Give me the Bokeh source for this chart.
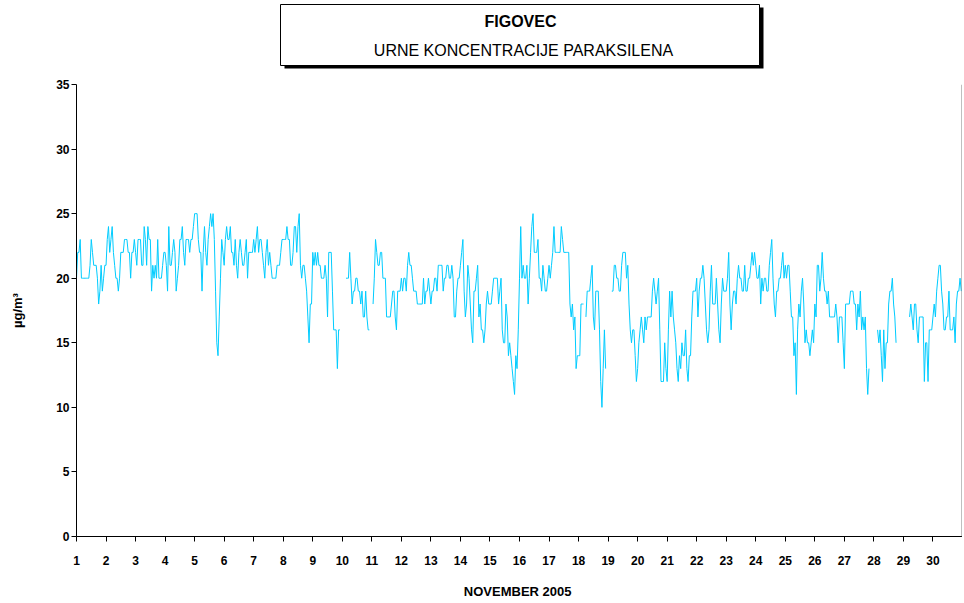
import numpy as np
from bokeh.plotting import figure
from bokeh.layouts import column
from bokeh.models import Range1d, FixedTicker, Span, ColumnDataSource
from bokeh.core.properties import value
from bokeh.embed import file_html
from bokeh.resources import INLINE

N = None
# hourly paraxylene concentrations (ug/m3), 1-30 November 2005
days_01_05 = [20,22,22,23,20,20,20,20,20,20, 20,21,23,22,21,21,21,20,18,19,
              21,19,20,21,21,23,24,22,23,24, 22,21,20,20,19,20,22,22,22,23,
              23,23,22,22,20,22,22,23,22,21, 23,23,23,21,21,24,23,21,24,23,
              23,19,21,20,21,20,23,20,20,20, 21,22,22,21,19,24,21,21,22,23,
              22,19,20,21,23,23,24,22,21,23, 23,23,22,23,23,24,25,25,25,23,
              22,22,19,22,24,22,21,23,24,25, 24,25,23,19,15,14,17,20,23,22]
days_06_10 = [21,23,24,23,23,24,22,22,21,23, 21,20,22,23,22,21,21,22,23,20,
              22,22,22,22,23,22,23,24,22,23, 23,22,21,20,22,23,21,22,21,20,
              20,20,20,21,21,21,22,23,23,23, 23,24,23,23,21,21,22,24,24,22,
              24,25,21,20,21,21,20,19,17,15, 18,18,22,21,22,21,22,21,21,20,
              20,20,21,20,17,22,22,22,19,16, 16,16,13,16,16,N,N,N,N,20,
              20,20,22,20,18,19,19,20,20,19, 19,18,19,17,17,19,17,16,16,N]
days_11_15 = [N,18,20,23,22,21,21,22,22,20, 20,20,17,17,17,17,18,19,19,17,
              16,19,19,19,20,19,20,20,19,21, 22,21,21,20,19,19,19,18,18,18,
              18,18,20,18,19,19,20,19,18,19, 19,20,20,19,21,21,21,21,19,20,
              20,21,21,20,20,21,20,17,17,19, 20,20,21,22,23,19,17,18,21,20,
              18,16,15,19,19,20,21,17,18,16, 16,15,16,18,19,18,18,18,19,20,
              20,20,20,18,19,20,16,15,15,18, 17,14,15,14,13,12,11,14,13,16]
days_16_20 = [20,24,20,21,20,20,21,18,20,22, 24,25,22,22,22,23,20,20,19,21,
              20,19,19,20,21,20,21,22,24,22, 22,22,22,22,24,23,22,22,22,22,
              22,18,17,18,16,17,13,14,14,14, 18,18,18,N,17,19,19,19,20,21,
              17,16,19,19,19,16,12,10,13,16, 13,N,N,N,N,19,19,21,21,20,
              20,19,19,21,22,22,22,20,21,18, 16,15,16,16,14,12,13,15,16,17,
              16,15,17,16,17,17,17,17,19,20, 19,18,19,20,16,12,12,12,15,13]
days_21_25 = [12,16,19,17,19,17,16,15,13,12, 14,13,15,14,14,16,13,12,14,14,
              17,19,19,19,20,17,19,20,20,21, 20,18,16,15,16,19,21,18,18,18,
              20,18,16,15,18,20,19,19,19,20, 22,18,16,18,19,19,18,20,21,20,
              20,19,19,21,19,19,20,20,21,22, 21,22,21,20,20,21,18,20,19,20,
              20,19,19,21,22,23,20,18,17,19, 19,20,20,21,22,20,21,20,21,21,
              19,17,17,14,15,11,16,18,17,19, 20,18,15,16,15,15,14,15,16,15]
days_26_30 = [18,17,21,21,19,20,22,20,19,19, 18,19,17,17,17,17,17,18,17,15,
              17,17,17,15,13,18,18,18,18,19, 19,19,18,18,16,18,17,19,16,17,
              16,17,13,11,13,N,N,N,N,N, N,16,15,16,14,12,16,13,15,15,
              18,19,19,20,18,17,15,N,N,N, N,N,N,N,N,N,N,17,18,17,
              16,18,18,16,15,17,17,17,17,12, 15,15,12,16,16,16,17,18,17,19,
              20,21,21,19,18,16,16,17,17,19, 16,16,16,17,15,18,19,19,20,19]

day_ticks = list(range(1, 31))
y_ticks = [0, 5, 10, 15, 20, 25, 30, 35]
title_main = "FIGOVEC"
title_sub = "URNE KONCENTRACIJE PARAKSILENA"
x_label = "NOVEMBER  2005"
y_label = "µg/m³"

vals = days_01_05 + days_06_10 + days_11_15 + days_16_20 + days_21_25 + days_26_30
conc = np.array([np.nan if v is None else v for v in vals], dtype=float)
t = 1 + np.arange(len(conc)) / 24.0
src = ColumnDataSource(dict(t=t, c=conc))

FONT = "Liberation Sans"
W = 962

# ---- title panel (page-pixel coordinates; its frame is aligned with the chart frame) ----
th = 77
tp = figure(width=W, height=th, x_range=Range1d(77, 963), y_range=Range1d(th, 0),
            x_axis_type=None, y_axis_type=None, output_backend="svg",
            toolbar_location=None, min_border=0)
tp.grid.visible = False
tp.outline_line_color = None
tp.quad(left=[285], right=[764], top=[7], bottom=[68], fill_color="black", line_color=None)
tp.quad(left=[281], right=[760], top=[4], bottom=[65], fill_color="white",
        line_color="black", line_width=1)
tp.text(x=[521], y=[21], text=[title_main], text_font=value(FONT), text_font_style="bold",
        text_font_size="16px", text_align="center", text_baseline="middle", text_color="black")
tp.text(x=[524], y=[50], text=[title_sub], text_font=value(FONT),
        text_font_size="16px", text_align="center", text_baseline="middle", text_color="black")

# ---- main chart ----
p = figure(width=W, height=524, x_range=Range1d(1, 31), y_range=Range1d(0, 35),
           output_backend="svg", toolbar_location=None,
           min_border_left=76, min_border_right=0, min_border_top=7, min_border_bottom=40)
p.xgrid.visible = False
p.ygrid.visible = False
p.outline_line_color = None
p.background_fill_color = "white"

p.line("t", "c", source=src, line_color="#00CCFF", line_width=1)

for ax in (p.xaxis[0], p.yaxis[0]):
    ax.axis_line_color = "black"
    ax.axis_line_width = 1
    ax.major_tick_line_color = "black"
    ax.major_tick_in = 0
    ax.major_tick_out = 5
    ax.minor_tick_line_color = None
    ax.major_label_text_font = FONT
    ax.major_label_text_font_style = "bold"
    ax.major_label_text_font_size = "12px"
    ax.major_label_text_color = "black"
    ax.axis_label_text_font = FONT
    ax.axis_label_text_font_style = "bold"
    ax.axis_label_text_font_size = "13px"
    ax.axis_label_text_color = "black"

p.xaxis.ticker = FixedTicker(ticks=day_ticks)
p.xaxis.major_label_standoff = 14
p.xaxis.axis_label = x_label
p.xaxis.axis_label_standoff = 16
p.yaxis.ticker = FixedTicker(ticks=y_ticks)
p.yaxis.major_label_standoff = 2
p.yaxis.axis_label = y_label
p.yaxis.axis_label_standoff = 28

p.add_layout(Span(location=31, dimension="height", line_color="#808080", line_width=2))

layout = column(tp, p, spacing=0)
open("out.html", "w").write(file_html(layout, INLINE))
